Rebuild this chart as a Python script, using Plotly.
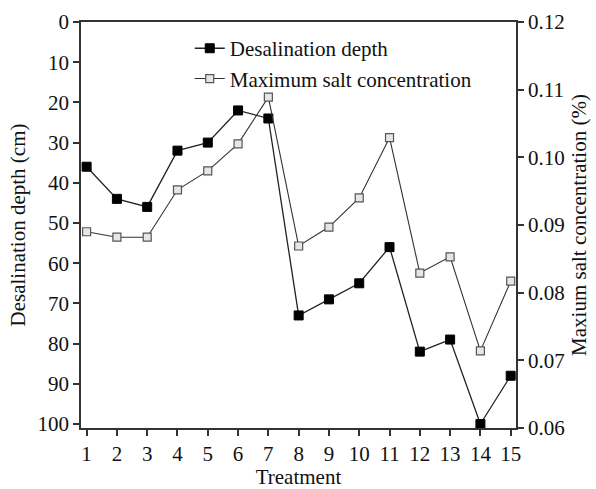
import plotly.graph_objects as go

treatment = list(range(1, 16))
desal_depth = [36, 44, 46, 32, 30, 22, 24, 73, 69, 65, 56, 82, 79, 100, 88]
max_salt = [0.0890, 0.0882, 0.0882, 0.0952, 0.0980, 0.1020, 0.1089, 0.0869,
            0.0897, 0.0940, 0.1029, 0.0829, 0.0853, 0.0714, 0.0817]

FONT = "Liberation Serif"
AX = "#333333"
FS = 21

fig = go.Figure()
fig.add_trace(go.Scatter(
    x=treatment, y=desal_depth, name="Desalination depth", mode="lines+markers",
    line=dict(color="#222222", width=1.3),
    marker=dict(symbol="square", size=9, color="#000000", line=dict(color="#000000", width=1)),
    yaxis="y"))
fig.add_trace(go.Scatter(
    x=treatment, y=max_salt, name="Maximum salt concentration", mode="lines+markers",
    line=dict(color="#333333", width=1.1),
    marker=dict(symbol="square", size=8, color="#e6e6e6", line=dict(color="#555555", width=1.2)),
    yaxis="y2"))

fig.update_layout(
    width=596, height=489,
    margin=dict(l=81, r=80, t=22, b=61),
    paper_bgcolor="white", plot_bgcolor="white",
    font=dict(family=FONT, size=FS, color="#111111"),
    showlegend=True,
    legend=dict(x=0.25, y=0.985, xanchor="left", yanchor="top",
                bgcolor="rgba(0,0,0,0)", font=dict(size=FS, family=FONT),
                traceorder="normal"),
    xaxis=dict(range=[0.815, 15.175], tickmode="linear", tick0=1, dtick=1,
               showline=True, linecolor=AX, linewidth=1.5, mirror=True,
               ticks="outside", ticklen=6, tickwidth=1.5, tickcolor=AX,
               showgrid=False, zeroline=False, automargin=False,
               title=dict(text="Treatment", font=dict(size=FS), standoff=8)),
    yaxis=dict(range=[101, 0], tickmode="linear", tick0=0, dtick=10,
               showline=True, linecolor=AX, linewidth=1.5,
               ticks="outside", ticklen=6, tickwidth=1.5, tickcolor=AX,
               showgrid=False, zeroline=False, automargin=False,
               title=dict(text="Desalination depth (cm)", font=dict(size=FS), standoff=6)),
    yaxis2=dict(range=[0.06, 0.12], tickmode="linear", tick0=0.06, dtick=0.01,
                tickformat=".2f", overlaying="y", side="right",
                showline=True, linecolor=AX, linewidth=1.5,
                ticks="outside", ticklen=6, tickwidth=1.5, tickcolor=AX,
                showgrid=False, zeroline=False, automargin=False,
                title=dict(text="Maxium salt concentration (%)", font=dict(size=FS), standoff=8)),
)

fig.write_html("out.html")
